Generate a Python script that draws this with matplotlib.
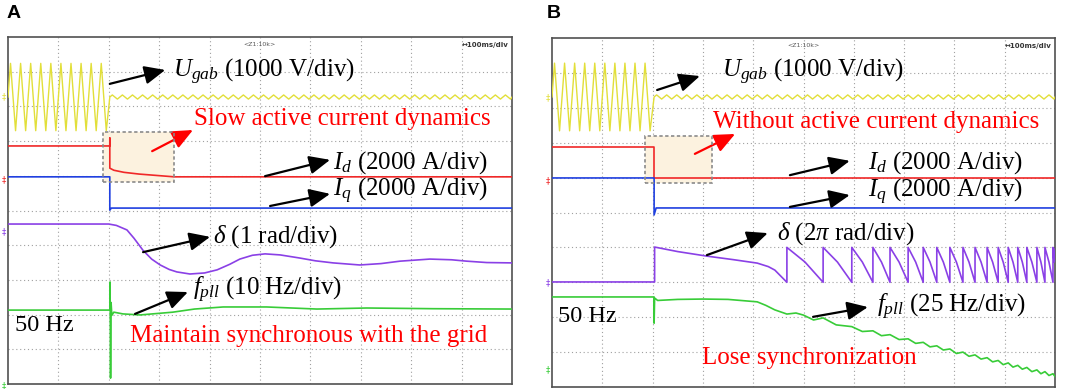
import numpy as np
import matplotlib
matplotlib.use("Agg")
import matplotlib.pyplot as plt
from matplotlib.patches import Rectangle

plt.rcParams['font.family'] = ['Liberation Serif', 'DejaVu Sans']
plt.rcParams['mathtext.fontset'] = 'custom'
plt.rcParams['mathtext.rm'] = 'Liberation Serif'
plt.rcParams['mathtext.it'] = 'Liberation Serif:italic'

t_fault = [2.02, 2.03]

# U_gab: centre level, amplitude before / after the fault, one 50 Hz cycle = 0.2 div
ugab_level = [8.27, 8.31]
ugab_amp_pre = [0.97, 0.97]
ugab_amp_post = [0.06, 0.06]
ugab_cycle = 0.2

# panel A
id_a_t = [0, 2.02, 2.02, 2.02, 2.1, 2.3, 2.6, 2.95, 3.3, 10]
id_a_v = [6.86, 6.86, 7.09, 6.22, 6.16, 6.10, 6.05, 6.01, 5.97, 5.97]
iq_a_t = [0, 2.02, 2.02, 2.05, 10]
iq_a_v = [5.97, 5.97, 5.01, 5.07, 5.07]
delta_a_t = [0, 2.0, 2.15, 2.36, 2.5, 2.68, 2.85, 3.02, 3.2, 3.35, 3.61, 3.9, 4.15, 4.4,
             4.6, 4.85, 5.1, 5.4, 5.79, 6.1, 6.45, 6.98, 7.4, 7.78, 8.37, 8.8, 9.1, 9.5, 10]
delta_a_v = [4.61, 4.61, 4.57, 4.44, 4.2, 3.85, 3.6, 3.43, 3.3, 3.23, 3.17, 3.2, 3.29, 3.45,
             3.6, 3.71, 3.75, 3.72, 3.63, 3.55, 3.49, 3.43, 3.47, 3.54, 3.60, 3.58, 3.54, 3.50, 3.49]
fpll_a_t = [0, 2.02, 2.025, 2.035, 2.045, 2.06, 2.1, 2.28, 2.62, 3.27, 3.7, 4.27, 5.13, 6.13,
            7.12, 8.44, 10]
fpll_a_v = [2.13, 2.13, 2.94, 0.17, 2.35, 1.98, 2.07, 2.02, 1.99, 2.07, 2.16, 2.22, 2.22, 2.16,
            2.19, 2.17, 2.16]

# panel B
id_b_t = [0, 2.03, 2.03, 10]
id_b_v = [6.88, 6.88, 5.99, 5.99]
iq_b_t = [0, 2.03, 2.03, 2.07, 10]
iq_b_v = [5.99, 5.99, 4.93, 5.13, 5.13]
delta_b_t = [0, 2.04, 2.04, 2.5, 3.08, 3.6, 4.08, 4.3, 4.43, 4.67]
delta_b_v = [3.01, 3.01, 4.01, 3.88, 3.75, 3.65, 3.55, 3.45, 3.35, 3.0]
# pole slipping: times where delta wraps (jumps up), top / middle / bottom of each tooth
slip_t = [4.67, 5.39, 5.96, 6.38, 6.72, 7.08, 7.38, 7.65, 7.91, 8.17, 8.41, 8.65, 8.87,
          9.07, 9.26, 9.44, 9.64, 9.80, 9.96]
slip_top, slip_mid, slip_bot = 4.0, 3.58, 3.0
fpll_b_t = [0, 2.03, 2.03, 2.04, 2.1, 2.5, 3.0, 3.5, 4.08, 4.25, 4.43, 4.67, 4.85, 5.0, 5.2,
            5.39, 5.65]
fpll_b_v = [2.58, 2.58, 1.83, 2.55, 2.48, 2.51, 2.52, 2.51, 2.44, 2.34, 2.21, 2.09, 2.12, 2.06,
            1.92, 1.98, 1.78]
# ripple of f_pll after 5.96 div: crests at slip times (from 5.96), troughs in between
fpll_b_crest = [1.73, 1.61, 1.50, 1.38, 1.28, 1.18, 1.09, 1.00, 0.92, 0.84, 0.76, 0.69, 0.62,
                0.56, 0.49, 0.44, 0.38]
fpll_b_trough = [1.59, 1.47, 1.36, 1.25, 1.15, 1.06, 0.96, 0.88, 0.80, 0.72, 0.64, 0.57, 0.51,
                 0.44, 0.38, 0.33]

# channel ground markers on the left edge (div)
mark_a = [8.27, 5.88, 4.38, -0.05]
mark_b = [8.28, 5.91, 3.0, 0.5]

c_yel, c_red, c_blu, c_pur, c_grn = '#e2df3a', '#f02828', '#2040e0', '#8a40e6', '#38cc38'


def ugab_trace(i):
    tf = t_fault[i]
    half = ugab_cycle / 2
    tp = np.arange(half / 2, tf, half)
    vp = ugab_level[i] + ugab_amp_pre[i] * np.where(np.arange(len(tp)) % 2 == 0, 1, -1)
    tq = np.arange(tf + half / 2, 10, half)
    vq = ugab_level[i] + ugab_amp_post[i] * np.where(np.arange(len(tq)) % 2 == 0, 1, -1)
    t = np.concatenate([[0], tp, [tf], tq, [10]])
    v = np.concatenate([[ugab_level[i]], vp, [ugab_level[i]], vq, [ugab_level[i]]])
    return t, v


def scope(ax, marks):
    ax.set_xlim(0, 10)
    ax.set_ylim(0, 10)
    ax.set_xticks([])
    ax.set_yticks([])
    for k in range(1, 10):
        ax.axvline(k, color='#a0a0a0', lw=0.8, ls=(0, (1, 2.5)), zorder=0)
        ax.axhline(k, color='#a0a0a0', lw=0.8, ls=(0, (1, 2.5)), zorder=0)
    for s in ax.spines.values():
        s.set_color('#505050')
        s.set_linewidth(1.2)
    ax.text(5.0, 9.85, '<Z1:10k>', fontsize=4.5, family=['DejaVu Sans'], color='#555555',
            ha='center', va='top')
    ax.text(9.93, 9.85, '\u2194100ms/div', fontsize=5, family=['DejaVu Sans'], weight='bold',
            color='#333333', ha='right', va='top')
    for y, c in zip(marks, [c_yel, c_red, c_pur, c_grn]):
        ax.text(-0.03, y, '\u2021', fontsize=6, family=['DejaVu Sans'], color=c,
                ha='right', va='center', clip_on=False)


def arrow(ax, x0, y0, x1, y1, color='black'):
    ax.annotate('', xy=(x1, y1), xytext=(x0, y0),
                arrowprops=dict(arrowstyle='-|>,head_length=0.9,head_width=0.4',
                                color=color, lw=1.6, shrinkA=0, shrinkB=0, mutation_scale=14))


fig = plt.figure(figsize=(10.65, 3.89), dpi=100)
axA = fig.add_axes([8 / 1065, 5 / 389, 504 / 1065, 347 / 389])
axB = fig.add_axes([552 / 1065, 2 / 389, 503 / 1065, 349 / 389])

fs = 18
# ---------------- panel A
ax = axA
scope(ax, mark_a)
ax.add_patch(Rectangle((1.88, 5.82), 1.41, 1.44, facecolor='#fcf2df', edgecolor='none', zorder=1))
ax.add_patch(Rectangle((1.88, 5.82), 1.41, 1.44, facecolor='none', edgecolor='#8a8a8a',
                       ls=(0, (2, 1.5)), lw=1.2, zorder=4))
t, v = ugab_trace(0)
ax.plot(t, v, color=c_yel, lw=1.0, zorder=3)
ax.plot(id_a_t, id_a_v, color=c_red, lw=1.2, zorder=3)
ax.plot(iq_a_t, iq_a_v, color=c_blu, lw=1.2, zorder=3)
ax.plot(delta_a_t, delta_a_v, color=c_pur, lw=1.2, zorder=3)
ax.plot(fpll_a_t, fpll_a_v, color=c_grn, lw=1.2, zorder=3)

ax.text(3.27, 8.99, r'$U_{gab}$ (1000 V/div)', fontsize=fs, ha='left', va='center')
arrow(ax, 2.02, 8.65, 3.12, 9.05)
ax.text(3.69, 7.64, 'Slow active current dynamics', fontsize=fs, color='red', ha='left', va='center')
arrow(ax, 2.86, 6.71, 3.67, 7.32, color='red')
ax.text(6.45, 6.37, r'$I_d$ (2000 A/div)', fontsize=fs, ha='left', va='center')
arrow(ax, 5.10, 5.99, 6.39, 6.46)
ax.text(6.45, 5.55, r'$I_q$ (2000 A/div)', fontsize=fs, ha='left', va='center')
arrow(ax, 5.20, 5.13, 6.39, 5.48)
ax.text(4.07, 4.24, r'$\delta$ (1 rad/div)', fontsize=fs, ha='left', va='center')
arrow(ax, 2.68, 3.80, 4.01, 4.24)
ax.text(3.67, 2.71, r'$f_{pll}$ (10 Hz/div)', fontsize=fs, ha='left', va='center')
arrow(ax, 2.52, 2.02, 3.57, 2.65)
ax.text(0.14, 1.70, '50 Hz', fontsize=17.5, ha='left', va='center')
ax.text(2.42, 1.38, 'Maintain synchronous with the grid', fontsize=fs, color='red',
        ha='left', va='center')
fig.text(7 / 1065, 1 - 13 / 389, 'A', fontsize=14, family=['Liberation Sans'], weight='bold',
         ha='left', va='center')

# ---------------- panel B
ax = axB
scope(ax, mark_b)
ax.add_patch(Rectangle((1.85, 5.85), 1.33, 1.34, facecolor='#fcf2df', edgecolor='none', zorder=1))
ax.add_patch(Rectangle((1.85, 5.85), 1.33, 1.34, facecolor='none', edgecolor='#8a8a8a',
                       ls=(0, (2, 1.5)), lw=1.2, zorder=4))
t, v = ugab_trace(1)
ax.plot(t, v, color=c_yel, lw=1.0, zorder=3)
ax.plot(id_b_t, id_b_v, color=c_red, lw=1.2, zorder=3)
ax.plot(iq_b_t, iq_b_v, color=c_blu, lw=1.2, zorder=3)

dt, dv = list(delta_b_t), list(delta_b_v)
for k in range(len(slip_t)):
    t0 = slip_t[k]
    t1 = slip_t[k + 1] if k + 1 < len(slip_t) else 10.0
    frac = (t1 - t0) / (slip_t[k] - slip_t[k - 1])
    dt += [t0, (t0 + t1) / 2, t1]
    dv += [slip_top, slip_mid, slip_bot if k + 1 < len(slip_t) else slip_top - 0.2 * frac]
ax.plot(dt, dv, color=c_pur, lw=1.2, zorder=3)

ft, fv = list(fpll_b_t), list(fpll_b_v)
crest_t = slip_t[2:]
for k in range(len(crest_t)):
    ft.append(crest_t[k])
    fv.append(fpll_b_crest[k])
    if k < len(fpll_b_trough):
        ft.append((crest_t[k] + crest_t[k + 1]) / 2)
        fv.append(fpll_b_trough[k])
ft.append(10.0)
fv.append(0.30)
ax.plot(ft, fv, color=c_grn, lw=1.2, zorder=3)

ax.text(3.38, 9.03, r'$U_{gab}$ (1000 V/div)', fontsize=fs, ha='left', va='center')
arrow(ax, 2.09, 8.51, 2.94, 8.91)
ax.text(3.20, 7.59, 'Without active current dynamics', fontsize=fs, color='red',
        ha='left', va='center')
arrow(ax, 2.84, 6.68, 3.64, 7.25, color='red')
ax.text(6.28, 6.42, r'$I_d$ (2000 A/div)', fontsize=fs, ha='left', va='center')
arrow(ax, 4.73, 6.07, 5.92, 6.48)
ax.text(6.28, 5.60, r'$I_q$ (2000 A/div)', fontsize=fs, ha='left', va='center')
arrow(ax, 4.73, 5.16, 5.92, 5.50)
ax.text(4.47, 4.41, r'$\delta$ (2$\pi$ rad/div)', fontsize=fs, ha='left', va='center')
arrow(ax, 3.08, 3.78, 4.29, 4.41)
ax.text(6.46, 2.29, r'$f_{pll}$ (25 Hz/div)', fontsize=fs, ha='left', va='center')
arrow(ax, 5.19, 2.01, 6.28, 2.29)
ax.text(0.12, 2.01, '50 Hz', fontsize=17.5, ha='left', va='center')
ax.text(2.98, 0.83, 'Lose synchronization', fontsize=fs, color='red', ha='left', va='center')
fig.text(547 / 1065, 1 - 13 / 389, 'B', fontsize=14, family=['Liberation Sans'], weight='bold',
         ha='left', va='center')

fig.savefig('out.png', dpi=100)
